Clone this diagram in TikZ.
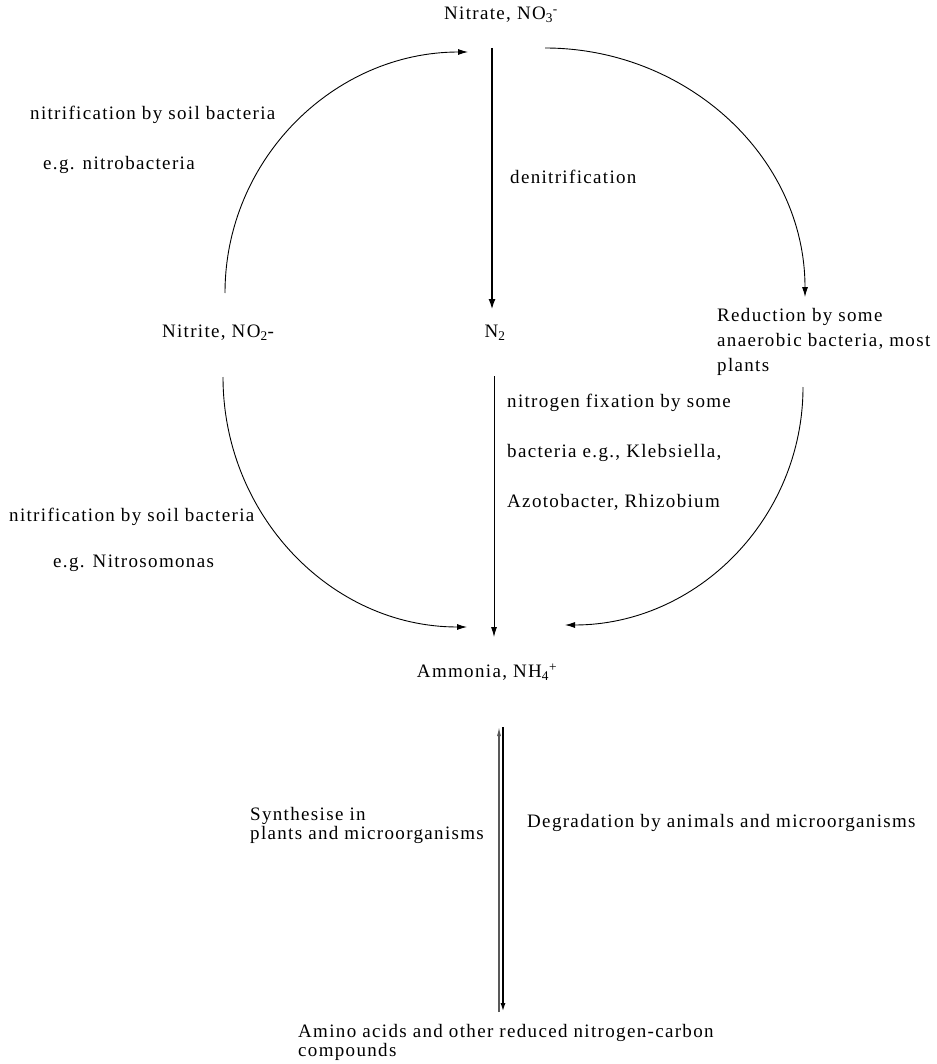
\documentclass[tikz,border=0pt]{standalone}
\usepackage{fontspec}
\setmainfont[LetterSpace=7]{Liberation Serif}
\usetikzlibrary{arrows.meta}
\begin{document}
\begin{tikzpicture}[x=1pt,y=1pt,
  font=\fontsize{19}{19}\selectfont,
  lbl/.style={inner sep=0pt, anchor=west, align=left},
  clbl/.style={inner sep=0pt, anchor=center},
  thin/.style={line width=0.9pt, -{Latex[length=10pt,width=6pt]}},
  thick/.style={line width=2.3pt, -{Latex[length=11pt,width=7pt]}}]
\useasboundingbox (0,0) rectangle (936,-1064);
\fill[white] (0,0) rectangle (936,-1064);
% labels
\node[clbl] (nitrate) at (501,-15) {Nitrate, NO\textsubscript{3}\textsuperscript{-}};
\node[clbl] (n2) at (495,-333) {N\textsubscript{2}};
\node[clbl] (nitrite) at (218,-333) {Nitrite, NO\textsubscript{2}-};
\node[lbl, font=\fontsize{19}{25}\selectfont] (reduc) at (717,-342) {Reduction by some\\anaerobic bacteria, most\\plants};
\node[clbl] (ammonia) at (487,-672) {Ammonia, NH\textsubscript{4}\textsuperscript{+}};
\node[lbl] (amino) at (298,-1042) {Amino acids and other reduced nitrogen-carbon\\compounds};
\node[lbl] (nit1) at (30,-115) {nitrification by soil bacteria};
\node[lbl] (nit1b) at (43,-165) {e.g. nitrobacteria};
\node[lbl] (denit) at (510,-177) {denitrification};
\node[lbl] (fix1) at (507,-403) {nitrogen fixation by some};
\node[lbl] (fix2) at (507,-453) {bacteria e.g., Klebsiella,};
\node[lbl] (fix3) at (507,-502) {Azotobacter, Rhizobium};
\node[lbl] (nit2) at (9,-517) {nitrification by soil bacteria};
\node[lbl] (nit2b) at (53,-563) {e.g. Nitrosomonas};
\node[lbl] (synth) at (250,-825) {Synthesise in\\plants and microorganisms};
\node[lbl] (degr) at (527,-823) {Degradation by animals and microorganisms};
% connector ends
\coordinate (tlS) at (225,-293);
\coordinate (tlE) at (468,-52);
\coordinate (trS) at (545,-48);
\coordinate (trE) at (805,-297);
\coordinate (blS) at (223,-377);
\coordinate (blE) at (467,-627);
\coordinate (brS) at (803,-387);
\coordinate (brE) at (565,-625);
\coordinate (dnS) at (492,-48);
\coordinate (dnE) at (492,-310);
\coordinate (fxS) at (494,-376);
\coordinate (fxE) at (494,-637);
\coordinate (upS) at (499,-1012);
\coordinate (upE) at (499,-727);
\coordinate (dwS) at (503,-727);
\coordinate (dwE) at (503,-1012);
% connectors
\draw[thin] (tlS) to[out=90,in=180] (tlE);
\draw[thin] (trS) to[out=0,in=90] (trE);
\draw[thin] (blS) to[out=-90,in=180] (blE);
\draw[thin] (brS) to[out=-90,in=0] (brE);
\draw[thick] (dnS) -- (dnE);
\draw[thin] (fxS) -- (fxE);
\draw[line width=1.1pt, draw=black!65, -{Latex[length=9pt,width=4pt]}] (upS) -- (upE);
\draw[line width=2pt, -{Latex[length=9pt,width=5pt]}] (dwS) -- (dwE);
\end{tikzpicture}
\end{document}
